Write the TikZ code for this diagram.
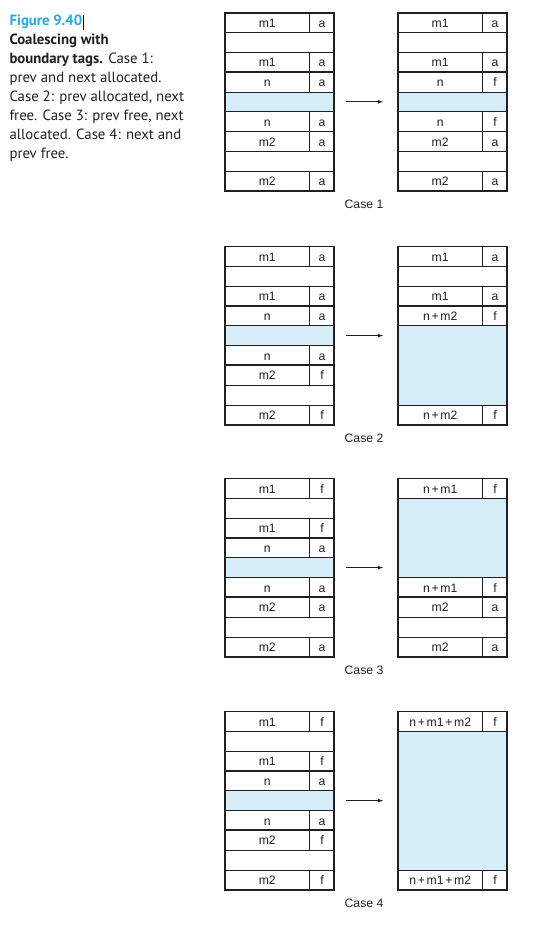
\documentclass[tikz,border=0pt]{standalone}
\usepackage{fontspec}
\setmainfont{Liberation Sans}
\newfontfamily\capfont{PT Sans}
\definecolor{figblue}{RGB}{41,168,224}
\definecolor{freeblue}{RGB}{214,238,250}
\definecolor{inkgray}{RGB}{35,31,32}
\newcommand\rh{19.8}
\newcommand\bw{109.5}
\newcommand\tw{85}
\newcommand\pl{\kern1.7pt+\kern1.7pt}
\tikzset{
 cell/.style={inner sep=0pt,anchor=base,text=inkgray,font=\fontsize{12.2}{14}\selectfont},
 capline/.style={inner sep=0pt,anchor=base west,text=inkgray,font=\capfont\fontsize{14.8}{19}\selectfont},
 thinln/.style={line width=.8pt,inkgray},
 thickln/.style={line width=1.7pt,inkgray},
 freeblk/.style={fill=freeblue}
}
% #1 name, #2 x, #3 top, #4 rows r/size/tag, #5 free rows from/to, #6 thick boundaries
\newcommand\memblock[6]{%
 \begin{scope}[shift={(#2,#3)}]
  \foreach \p/\q in {#5} \fill[freeblk] (0,{(\p-1)*\rh}) rectangle (\bw,{\q*\rh});
  \foreach \r/\s/\t in {#4}{
   \draw[thinln] (0,{(\r-1)*\rh}) -- (\bw,{(\r-1)*\rh});
   \draw[thinln] (0,{\r*\rh}) -- (\bw,{\r*\rh});
   \draw[thinln] (\tw,{(\r-1)*\rh}) -- (\tw,{\r*\rh});
   \node[cell] (#1-\r-s) at ({\tw/2},{(\r-.5)*\rh+4.7}) {\s};
   \node[cell] (#1-\r-t) at ({(\tw+\bw)/2},{(\r-.5)*\rh+4.7}) {\t};
  }
  \foreach \b in {#6} \draw[thickln] (0,{\b*\rh}) -- (\bw,{\b*\rh});
  \draw[thickln] (0,0) rectangle (\bw,{9*\rh});
 \end{scope}}
\begin{document}
\begin{tikzpicture}[x=1pt,y=-1pt,>=latex]
\useasboundingbox (0,0) rectangle (543,927);
% caption
\node[capline,text=figblue,font=\capfont\bfseries\fontsize{14.8}{19}\selectfont] (cap1) at (9.3,25.7) {Figure 9.40};
\draw[line width=.8pt] ([xshift=1.5pt]cap1.base east) ++(0,4.3) -- ++(0,-15);
\foreach \i/\txt in {2/{\bfseries Coalescing with},3/{\bfseries boundary tags.} Case 1:,
  4/{prev and next allocated.},5/{Case 2: prev allocated, next},6/{free. Case 3: prev free, next},
  7/{allocated. Case 4: next and},8/{prev free.}}
 \node[capline] (cap\i) at (9.3,{25.7+18.9*(\i-1)}) {\txt};
% case 1
\memblock{b1L}{224.8}{12.7}{1/m1/a,3/m1/a,4/n/a,6/n/a,7/m2/a,9/m2/a}{5/5}{3,6}
\memblock{b1R}{397.7}{12.7}{1/m1/a,3/m1/a,4/n/f,6/n/f,7/m2/a,9/m2/a}{5/5}{3,6}
% case 2
\memblock{b2L}{224.8}{246.5}{1/m1/a,3/m1/a,4/n/a,6/n/a,7/m2/f,9/m2/f}{5/5}{3,6}
\memblock{b2R}{397.7}{246.5}{1/m1/a,3/m1/a,4/n\pl m2/f,9/n\pl m2/f}{5/8}{3}
% case 3
\memblock{b3L}{224.8}{478.5}{1/m1/f,3/m1/f,4/n/a,6/n/a,7/m2/a,9/m2/a}{5/5}{3,6}
\memblock{b3R}{397.7}{478.5}{1/n\pl m1/f,6/n\pl m1/f,7/m2/a,9/m2/a}{2/5}{6}
% case 4
\memblock{b4L}{224.8}{711.5}{1/m1/f,3/m1/f,4/n/a,6/n/a,7/m2/f,9/m2/f}{5/5}{3,6}
\memblock{b4R}{397.7}{711.5}{1/n\pl m1\pl m2/f,9/n\pl m1\pl m2/f}{2/8}{0}
% arrows and labels
\foreach \k/\y in {1/12.7,2/246.5,3/478.5,4/711.5}{
 \coordinate (arS\k) at (346,{\y+4.5*\rh});
 \coordinate (arE\k) at (383,{\y+4.5*\rh});
 \draw[->,thinln] (arS\k) -- (arE\k);
 \node[cell,font=\fontsize{12.2}{14}\selectfont] (case\k) at (364,{\y+195.6}) {Case \k};
}
\end{tikzpicture}
\end{document}
